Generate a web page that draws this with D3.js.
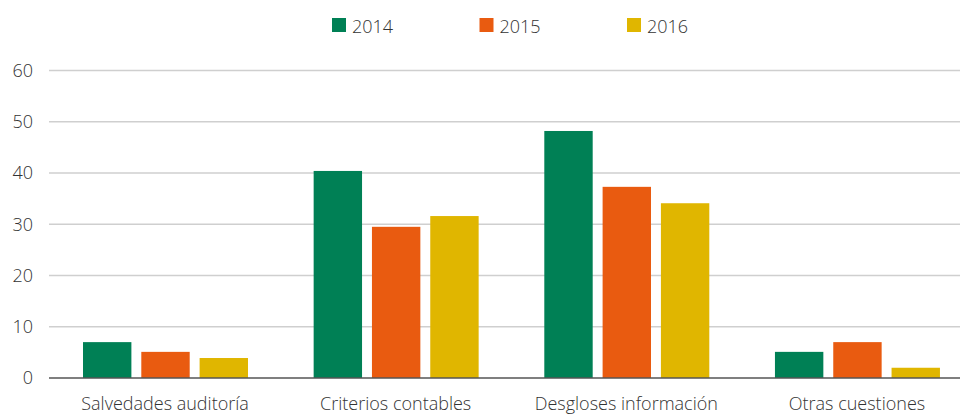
<!DOCTYPE html>
<html>
<head>
<meta charset="utf-8">
<script src="https://cdn.jsdelivr.net/npm/d3@7"></script>
<style>
  body { margin: 0; background: #fff; }
  text { font-family: "Open Sans", sans-serif; font-weight: 300; fill: #333; }
</style>
</head>
<body>
<div id="chart-area"></div>
<script>
// data
const categories = ['Salvedades auditoría', 'Criterios contables', 'Desgloses información', 'Otras cuestiones']
const years = ['2014', '2015', '2016']
const values2014 = [7, 40.4, 48.2, 5.1]
const values2015 = [5.1, 29.5, 37.3, 7]
const values2016 = [3.9, 31.6, 34.1, 2]
const yTicks = [0, 10, 20, 30, 40, 50, 60]
const colors = ['#008055', '#e95b10', '#e0b600']

const seriesValues = [values2014, values2015, values2016]
const data = categories.map((c, i) => ({
	category: c,
	values: years.map((y, j) => ({ year: y, value: seriesValues[j][i] }))
}))

/* Canvas */
const CANVAS_WIDTH = 960
const CANVAS_HEIGHT = 414

const $svg = d3.select('#chart-area')
	.append('svg')
	.attr('width', CANVAS_WIDTH)
	.attr('height', CANVAS_HEIGHT)

const plotLeft = 49
const y0 = 378
const y60 = 70.5

/* Scales */
const x0 = d3.scaleBand()
	.domain(categories)
	.range([50.2, 972.8])

const x1 = d3.scaleBand()
	.domain(years)
	.range([32.8, 197.8])
	.paddingInner(0.17)

const yScale = d3.scaleLinear()
	.domain([0, 60])
	.range([y0, y60])

/* Gridlines + y labels */
const $grid = $svg.append('g')
$grid.selectAll('line')
	.data(yTicks.filter(d => d > 0))
	.enter()
	.append('line')
	.attr('x1', plotLeft)
	.attr('x2', CANVAS_WIDTH)
	.attr('y1', d => yScale(d))
	.attr('y2', d => yScale(d))
	.attr('stroke', '#cfcfcf')
	.attr('stroke-width', 1.3)

$grid.selectAll('text')
	.data(yTicks)
	.enter()
	.append('text')
	.attr('x', 33)
	.attr('y', d => yScale(d))
	.attr('dy', '0.35em')
	.attr('text-anchor', 'end')
	.attr('font-size', 18)
	.text(d => d)

/* Bars */
const $groups = $svg.append('g')
	.selectAll('g')
	.data(data)
	.enter()
	.append('g')
	.attr('transform', d => `translate(${x0(d.category)}, 0)`)

$groups.selectAll('rect')
	.data(d => d.values)
	.enter()
	.append('rect')
	.attr('x', d => x1(d.year))
	.attr('width', x1.bandwidth())
	.attr('y', d => yScale(d.value))
	.attr('height', d => y0 - yScale(d.value))
	.attr('fill', (d, i) => colors[i])

/* Baseline */
$svg.append('line')
	.attr('x1', plotLeft)
	.attr('x2', CANVAS_WIDTH)
	.attr('y1', y0)
	.attr('y2', y0)
	.attr('stroke', '#555')
	.attr('stroke-width', 1.5)

/* Category labels */
$svg.append('g')
	.selectAll('text')
	.data(categories)
	.enter()
	.append('text')
	.attr('x', d => x0(d) + x0.bandwidth() / 2 - 0.5)
	.attr('y', 410)
	.attr('text-anchor', 'middle')
	.attr('font-size', 18)
	.text(d => d)

/* Legend */
const legendX = d3.scaleBand()
	.domain(years)
	.range([332, 774.5])

const $legend = $svg.append('g')
	.selectAll('g')
	.data(years)
	.enter()
	.append('g')
	.attr('transform', d => `translate(${legendX(d)}, 0)`)

$legend.append('rect')
	.attr('x', 0)
	.attr('y', 18)
	.attr('width', 14)
	.attr('height', 14)
	.attr('fill', (d, i) => colors[i])

$legend.append('text')
	.attr('x', 20)
	.attr('y', 26.5)
	.attr('dy', '0.35em')
	.attr('font-size', 18)
	.text(d => d)
</script>
</body>
</html>
